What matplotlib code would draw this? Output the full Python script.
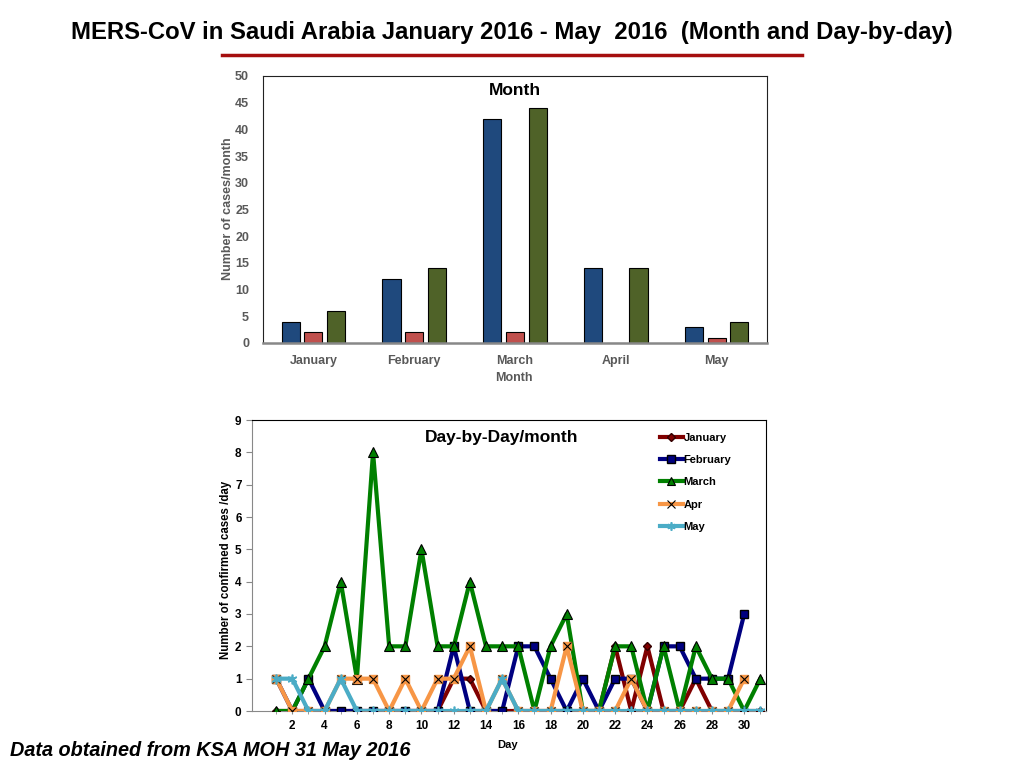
import numpy as np
import matplotlib
matplotlib.use("Agg")
import matplotlib.pyplot as plt
from matplotlib.lines import Line2D

plt.rcParams['font.family'] = ['Liberation Sans', 'DejaVu Sans']

# monthly bars
months = ['January', 'February', 'March', 'April', 'May']
bar_blue = [4, 12, 42, 14, 3]
bar_red = [2, 2, 2, 0, 1]
bar_green = [6, 14, 44, 14, 4]

# day by day
jan = [0,0,0,0,0,0,0,0,0,0,0,1,1,0,0,0,0,0,0,0,0,2,0,2,0,0,1,0,0,0,0]
feb = [1,0,1,0,0,0,0,0,0,0,0,2,0,0,0,2,2,1,0,1,0,1,1,0,2,2,1,1,1,3]
mar = [0,0,1,2,4,1,8,2,2,5,2,2,4,2,2,2,0,2,3,0,0,2,2,0,2,0,2,1,1,0,1]
apr = [1,0,0,0,1,1,1,0,1,0,1,1,2,0,1,0,0,0,2,0,0,0,1,0,0,0,0,0,0,1]
may = [1,1,0,0,1,0,0,0,0,0,0,0,0,0,1,0,0,0,0,0,0,0,0,0,0,0,0,0,0,0,0]

gray = '#595959'
asterisk = (6, 2, 0)

fig = plt.figure(figsize=(10.24, 7.68), dpi=100)

fig.text(512/1024, 1 - 32/768, 'MERS-CoV in Saudi Arabia January 2016 - May  2016  (Month and Day-by-day)',
         ha='center', va='center', fontsize=17.2, fontweight='bold')
fig.add_artist(Line2D([222/1024, 802/1024], [1 - 55/768, 1 - 55/768], color='#A50E0E', lw=2.5))

# ---- top: month bars
ax1 = fig.add_axes([263/1024, 1 - 343/768, 504/1024, 267/768])
x = np.arange(len(months))
w = 0.18
ax1.bar(x - 0.225, bar_blue, w, color='#1F497D', edgecolor='black', lw=0.8)
ax1.bar(x, bar_red, w, color='#C0504D', edgecolor='black', lw=0.8)
ax1.bar(x + 0.225, bar_green, w, color='#4F6228', edgecolor='black', lw=0.8)
ax1.set_xlim(-0.5, 4.5)
ax1.set_ylim(0, 50)
ax1.set_yticks(range(0, 51, 5))
ax1.set_xticks(x)
ax1.set_xticklabels(months)
ax1.tick_params(axis='y', length=0, labelsize=9, labelcolor=gray, pad=10)
ax1.tick_params(axis='x', length=0, labelsize=9, labelcolor=gray, pad=9)
for lab in ax1.get_xticklabels() + ax1.get_yticklabels():
    lab.set_fontweight('bold')
for s in ['top', 'right', 'left']:
    ax1.spines[s].set_color('#222222')
ax1.spines['bottom'].set_color('#888888')
ax1.spines['bottom'].set_linewidth(1.8)
ax1.text(0.5, 0.975, 'Month', transform=ax1.transAxes, ha='center', va='top',
         fontsize=12.5, fontweight='bold')
fig.text(514/1024, 1 - 378/768, 'Month', ha='center', va='center', fontsize=9,
         fontweight='bold', color=gray)
fig.text(228/1024, 1 - 209/768, 'Number of cases/month', ha='center', va='center',
         rotation=90, fontsize=9, fontweight='bold', color=gray)

# ---- bottom: day by day
ax2 = fig.add_axes([252/1024, 1 - 711/768, 514/1024, 291/768])
lw = 3
ax2.plot(range(1, len(jan) + 1), jan, color='#800000', lw=lw, marker='D', ms=4,
         mec='#330000', zorder=3)
ax2.plot(range(1, len(feb) + 1), feb, color='#000080', lw=lw, marker='s', ms=6,
         mec='black', zorder=4)
ax2.plot(range(1, len(mar) + 1), mar, color='#008000', lw=lw, marker='^', ms=6.5,
         mec='black', mew=0.8, zorder=5)
ax2.plot(range(1, len(apr) + 1), apr, color='#F79646', lw=lw, marker='s', ms=6,
         mec='#F79646', zorder=6)
ax2.plot(range(1, len(apr) + 1), apr, ls='none', marker='x', ms=6, mec='black', mew=0.8, zorder=6.5)
ax2.plot(range(1, len(may) + 1), may, color='#4BACC6', lw=lw, marker=asterisk, ms=7,
         mec='#4BACC6', mew=1.2, zorder=7)

handles = [
    Line2D([], [], color='#800000', lw=lw, marker='D', ms=4, mec='#330000'),
    Line2D([], [], color='#000080', lw=lw, marker='s', ms=5.5, mec='black'),
    Line2D([], [], color='#008000', lw=lw, marker='^', ms=5.5, mec='black', mew=0.8),
    Line2D([], [], color='#F79646', lw=lw, marker='x', ms=5.5, mec='black', mew=0.8),
    Line2D([], [], color='#4BACC6', lw=lw, marker=asterisk, ms=6, mec='#4BACC6', mew=1.2),
]
ax2.legend(handles, ['January', 'February', 'March', 'Apr', 'May'],
           loc='upper left', bbox_to_anchor=(0.775, 0.99), frameon=False,
           handlelength=2.0, handletextpad=0.1, labelspacing=1.1,
           prop={'size': 8, 'weight': 'bold'})

ax2.set_xlim(-0.5, 31.35)
ax2.set_ylim(0, 9)
ax2.set_yticks(range(0, 10))
ax2.set_xticks(range(2, 31, 2))
ax2.set_xticks(range(1, 32), minor=True)
ax2.tick_params(axis='x', which='both', direction='inout', length=5, color='#888888',
                labelsize=8.5, pad=4)
ax2.tick_params(axis='y', direction='out', length=4, color='#888888', labelsize=8.5)
for lab in ax2.get_xticklabels() + ax2.get_yticklabels():
    lab.set_fontweight('bold')
ax2.spines['left'].set_color('#888888')
ax2.spines['bottom'].set_color('#888888')
ax2.spines['top'].set_color('black')
ax2.spines['right'].set_color('black')
ax2.text(0.485, 0.965, 'Day-by-Day/month', transform=ax2.transAxes, ha='center', va='top',
         fontsize=12.5, fontweight='bold')
fig.text(508/1024, 1 - 745/768, 'Day', ha='center', va='center', fontsize=8, fontweight='bold')
fig.text(226/1024, 1 - 570/768, 'Number of confirmed cases /day', ha='center', va='center',
         rotation=90, fontsize=8.3, fontweight='bold')

fig.text(10/1024, 1 - 750/768, 'Data obtained from KSA MOH 31 May 2016', ha='left', va='center',
         fontsize=14.3, fontweight='bold', fontstyle='italic')

fig.savefig('out.png', dpi=100)
